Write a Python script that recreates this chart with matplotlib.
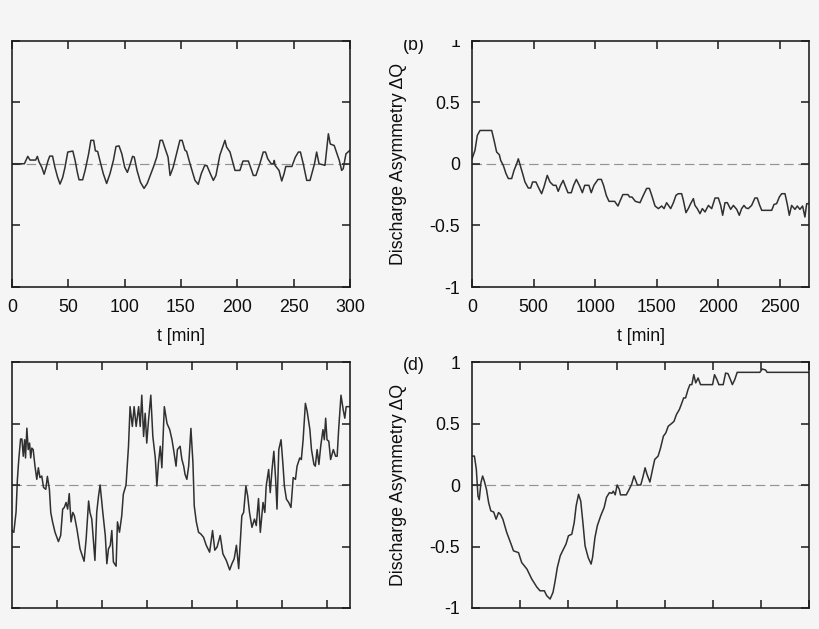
import matplotlib
matplotlib.use("Agg")
import matplotlib.pyplot as plt
from matplotlib.patches import Rectangle

plt.rcParams['font.family'] = ['Liberation Sans', 'DejaVu Sans']

# ---------------- data ----------------
# (a) short run, t in minutes
a_t = [0, 11, 14, 16, 21, 22.5, 24, 26.5, 28.5, 30, 32, 33.5, 36, 38, 40.5, 42.6, 45, 47, 49.5, 54,
       56, 58, 59.5, 62.7, 65, 68, 70, 72.5, 74, 76, 78, 81, 84, 87, 90, 92.3, 95, 97.5, 100, 102.4,
       104.5, 107, 108.5, 111, 114, 117.2, 120, 122.5, 125.5, 128.5, 131.5, 133.5, 136, 138.5, 140.3,
       143, 146, 149, 151, 153.5, 155, 158, 162.4, 165.3, 168, 171, 173, 176, 178.7, 181,
       184.5, 189, 190.5, 193.5, 195.5, 197.9, 202.3, 205, 209.8, 212.7, 214.2, 216.5, 220, 223, 225,
       227, 230, 232, 232.8, 233.5, 237, 239.4, 241.5, 243, 248.4, 251.5, 254.2, 256, 258.5, 261.6,
       264.5, 268.5, 270.4, 272.5, 277.8, 280.8, 282.5, 286, 288.5, 290.5, 292.6, 294, 296.4, 300]
a_q = [0, 0, 0.06, 0.03, 0.03, 0.06, 0.015, -0.03, -0.085, -0.04, 0.025, 0.062, 0.062, -0.025, -0.11, -0.165, -0.11, -0.03, 0.095, 0.103,
       0.027, -0.07, -0.13, -0.13, -0.05, 0.08, 0.19, 0.19, 0.105, 0.1, 0.027, -0.08, -0.16, -0.08, 0.027, 0.14, 0.145, 0.08, -0.027, -0.07,
       -0.015, 0.06, 0.055, -0.055, -0.15, -0.2, -0.16, -0.1, -0.027, 0.054, 0.19, 0.19, 0.12, 0.054, -0.095,
       -0.03, 0.08, 0.19, 0.19, 0.11, 0.1, 0, -0.135, -0.167, -0.08, -0.015, -0.015, -0.08, -0.135, -0.095,
       0.07, 0.19, 0.135, 0.095, 0.027, -0.054, -0.054, 0.022, 0.022, -0.054, -0.095, -0.095, 0, 0.095, 0.095,
       0.04, 0, 0, 0.027, -0.013, -0.054, -0.14, -0.08, -0.022, -0.022, 0.054, 0.095, 0.095, 0, -0.135,
       -0.135, 0, 0.095, 0, -0.013, 0.243, 0.16, 0.148, 0.08, 0.027, -0.054, -0.04, 0.08, 0.11]

# (b) long run, t in minutes
b_t = [0, 24, 43, 65, 160, 179, 200, 222, 233, 254, 276, 295, 322, 341, 363, 376, 390, 411, 430, 457,
       476, 492, 519, 538, 565, 584, 611, 633, 660, 682, 700, 719, 740, 755, 779, 806, 825, 847, 874, 896,
       915, 949, 968, 990, 1023, 1050, 1068, 1090, 1112, 1158, 1185, 1204, 1225, 1266, 1280, 1299, 1326, 1364, 1391, 1418,
       1440, 1459, 1486, 1513, 1540, 1559, 1580, 1595, 1613, 1635, 1656, 1675, 1702, 1716, 1737, 1756, 1775, 1797, 1810, 1829,
       1851, 1870, 1892, 1919, 1946, 1973, 2000, 2019, 2035, 2054, 2073, 2100, 2122, 2149, 2170, 2189, 2208, 2225, 2243, 2270,
       2297, 2316, 2333, 2352, 2433, 2452, 2473, 2495, 2514, 2541, 2560, 2576, 2595, 2622, 2641, 2662, 2684, 2703, 2717, 2740]
b_q = [0.04, 0.108, 0.23, 0.27, 0.27, 0.19, 0.095, 0.073, 0.027, -0.013, -0.08, -0.12, -0.12, -0.054, 0, 0.04, -0.008, -0.08, -0.148, -0.197,
       -0.197, -0.148, -0.148, -0.189, -0.243, -0.189, -0.094, -0.148, -0.175, -0.175, -0.224, -0.175, -0.135, -0.175, -0.235, -0.235, -0.175, -0.127, -0.181, -0.235,
       -0.175, -0.175, -0.235, -0.175, -0.127, -0.127, -0.175, -0.256, -0.305, -0.305, -0.343, -0.297, -0.25, -0.25, -0.27, -0.27, -0.305, -0.316, -0.256, -0.2,
       -0.2, -0.256, -0.343, -0.364, -0.343, -0.364, -0.316, -0.338, -0.364, -0.316, -0.256, -0.243, -0.243, -0.297, -0.397, -0.364, -0.324, -0.283, -0.338, -0.364,
       -0.405, -0.364, -0.391, -0.338, -0.364, -0.278, -0.278, -0.338, -0.418, -0.316, -0.316, -0.37, -0.338, -0.37, -0.418, -0.364, -0.338, -0.359, -0.364, -0.338,
       -0.278, -0.278, -0.33, -0.378, -0.378, -0.33, -0.324, -0.27, -0.243, -0.243, -0.33, -0.418, -0.338, -0.37, -0.343, -0.37, -0.343, -0.432, -0.324, -0.324]

# (c) noisy run (x axis unlabeled, one unit per tick)
c_x = [0, 0.04, 0.09, 0.12, 0.15, 0.19, 0.22, 0.25, 0.28, 0.30, 0.33, 0.36, 0.39, 0.415, 0.44, 0.47, 0.51, 0.55, 0.585, 0.62,
       0.66, 0.70, 0.75, 0.785, 0.83, 0.86, 0.90, 0.955, 1.03, 1.08, 1.125, 1.16, 1.2, 1.235, 1.27, 1.31, 1.35, 1.385, 1.44, 1.51,
       1.6, 1.645, 1.70, 1.73, 1.77, 1.84, 1.88, 1.92, 1.955, 2.015, 2.07, 2.105, 2.14, 2.18, 2.215, 2.25, 2.31, 2.34, 2.385, 2.435,
       2.47, 2.53, 2.585, 2.62, 2.67, 2.71, 2.755, 2.81, 2.845, 2.88, 2.92, 2.955, 2.99, 3.03, 3.08, 3.125, 3.18, 3.215, 3.25, 3.29,
       3.325, 3.38, 3.44, 3.5, 3.55, 3.585, 3.64, 3.67, 3.73, 3.77, 3.81, 3.84, 3.88, 3.92, 3.97, 4.015, 4.044, 4.09, 4.14, 4.19,
       4.25, 4.31, 4.385, 4.45, 4.5, 4.55, 4.62, 4.68, 4.755, 4.83, 4.88, 4.93, 4.98, 5.03, 5.1, 5.14, 5.19, 5.23, 5.27, 5.325,
       5.38, 5.42, 5.47, 5.51, 5.57, 5.61, 5.64, 5.695, 5.73, 5.77, 5.81, 5.85, 5.88, 5.92, 5.97, 6.015, 6.044, 6.09, 6.14, 6.19,
       6.24, 6.29, 6.325, 6.385, 6.42, 6.46, 6.51, 6.55, 6.61, 6.645, 6.7, 6.73, 6.77, 6.81, 6.85, 6.9, 6.93, 6.96, 6.99, 7.03,
       7.07, 7.13, 7.18, 7.215, 7.25, 7.3, 7.35, 7.385, 7.415, 7.45, 7.5]
c_q = [-0.37, -0.385, -0.22, 0.046, 0.207, 0.374, 0.374, 0.234, 0.368, 0.22, 0.462, 0.288, 0.341, 0.22, 0.3, 0.288, 0.153, 0.046, 0.14, 0.06,
       0.073, -0.02, -0.035, 0.07, -0.035, -0.223, -0.30, -0.385, -0.46, -0.41, -0.196, -0.183, -0.142, -0.196, -0.07, -0.30, -0.223, -0.25, -0.357, -0.52,
       -0.62, -0.44, -0.13, -0.223, -0.277, -0.613, -0.223, -0.09, 0.0, -0.223, -0.411, -0.64, -0.52, -0.492, -0.37, -0.626, -0.66, -0.30, -0.384, -0.25,
       -0.075, 0, 0.315, 0.637, 0.476, 0.637, 0.476, 0.637, 0.476, 0.73, 0.395, 0.583, 0.341, 0.529, 0.73, 0.395, 0.22, -0.008, 0.18, 0.315,
       0.14, 0.637, 0.5, 0.45, 0.368, 0.288, 0.153, 0.288, 0.315, 0.207, 0.153, 0.086, 0.046, 0.153, 0.46, 0.18, -0.17, -0.30, -0.385, -0.398,
       -0.425, -0.49, -0.546, -0.37, -0.53, -0.505, -0.41, -0.56, -0.613, -0.69, -0.64, -0.6, -0.49, -0.68, -0.25, -0.223, -0.008, -0.09, -0.223, -0.344,
       -0.277, -0.33, -0.11, -0.385, -0.142, -0.223, -0.008, 0.126, -0.062, 0.126, 0.274, 0.046, -0.196, 0.288, 0.368, 0.153, -0.008, -0.116, -0.142, -0.183,
       0.06, 0.046, 0.153, 0.22, 0.207, 0.368, 0.664, 0.597, 0.45, 0.288, 0.167, 0.153, 0.288, 0.167, 0.315, 0.45, 0.368, 0.543, 0.368, 0.355,
       0.207, 0.288, 0.234, 0.234, 0.462, 0.73, 0.61, 0.543, 0.637, 0.637, 0.637]

# (d) smooth run (x axis unlabeled, one unit per tick)
d_x = [0, 0.05, 0.09, 0.124, 0.15, 0.186, 0.22, 0.255, 0.3, 0.345, 0.39, 0.45, 0.5, 0.55, 0.59, 0.64, 0.72, 0.81, 0.86, 0.965,
       1.03, 1.14, 1.24, 1.345, 1.41, 1.5, 1.55, 1.62, 1.68, 1.72, 1.77, 1.83, 1.88, 1.95, 2.0, 2.07, 2.12, 2.16, 2.21, 2.255,
       2.3, 2.345, 2.41, 2.47, 2.5, 2.55, 2.6, 2.67, 2.74, 2.79, 2.85, 2.9, 2.93, 2.97, 3.01, 3.055, 3.08, 3.2, 3.26, 3.31,
       3.36, 3.4, 3.43, 3.5, 3.55, 3.59, 3.63, 3.69, 3.745, 3.79, 3.86, 3.91, 3.97, 4.02, 4.07, 4.14, 4.19, 4.24, 4.3, 4.34,
       4.39, 4.43, 4.48, 4.52, 4.56, 4.6, 4.64, 4.69, 4.74, 4.99, 5.03, 5.08, 5.12, 5.21, 5.26, 5.31, 5.36, 5.4, 5.45, 5.5,
       5.97, 6.02, 6.09, 6.12, 7.0]
d_q = [0.235, 0.235, 0.127, -0.09, -0.12, 0.02, 0.073, 0.032, -0.035, -0.143, -0.21, -0.22, -0.278, -0.224, -0.238, -0.278, -0.386, -0.48, -0.535, -0.55,
       -0.63, -0.684, -0.765, -0.83, -0.86, -0.86, -0.9, -0.927, -0.873, -0.79, -0.67, -0.576, -0.535, -0.48, -0.413, -0.4, -0.305, -0.17, -0.076, -0.13,
       -0.305, -0.495, -0.59, -0.643, -0.59, -0.427, -0.33, -0.25, -0.184, -0.1, -0.062, -0.068, -0.05, -0.08, 0.0, -0.035, -0.08, -0.08, -0.035, 0.005,
       0.073, 0.032, 0.0, 0.0, 0.073, 0.14, 0.086, 0.024, 0.127, 0.208, 0.235, 0.3, 0.397, 0.424, 0.478, 0.5, 0.518, 0.573, 0.613, 0.654,
       0.708, 0.708, 0.776, 0.816, 0.816, 0.897, 0.83, 0.87, 0.816, 0.816, 0.897, 0.857, 0.816, 0.816, 0.91, 0.905, 0.857, 0.816, 0.857, 0.916,
       0.916, 0.943, 0.935, 0.916, 0.916]

y_ticks = [-1, -0.5, 0, 0.5, 1]
y_ticklabels = ['-1', '-0.5', '0', '0.5', '1']
a_xticks = [0, 50, 100, 150, 200, 250, 300]
b_xticks = [0, 500, 1000, 1500, 2000, 2500]
cd_xticks = [1, 2, 3, 4, 5, 6, 7]
xlabel_text = 't [min]'
ylabel_text = 'Discharge Asymmetry ΔQ'
panel_labels = ['(b)', '(d)']

# ---------------- style ----------------
BG = '#f5f5f5'
LINE = '#303030'
AXC = '#1a1a1a'
TXT = '#0d0d0d'
FS = 12.8
W, H = 820, 629

fig = plt.figure(figsize=(W / 100, H / 100), dpi=100, facecolor=BG)


def box(x0, x1, y0, y1):
    return [x0 / W, 1 - y1 / H, (x1 - x0) / W, (y1 - y0) / H]


def style(ax, xlim, xticks, show_x, show_y):
    ax.set_facecolor(BG)
    ax.set_xlim(*xlim)
    ax.set_ylim(-1, 1)
    ax.set_xticks(xticks)
    ax.set_yticks(y_ticks)
    if show_y:
        ax.set_yticklabels(y_ticklabels)
    else:
        ax.set_yticklabels([])
    if not show_x:
        ax.set_xticklabels([])
    for s in ax.spines.values():
        s.set_color(AXC)
        s.set_linewidth(1.15)
    ax.tick_params(direction='in', length=5.8, width=1.1, color=AXC,
                   top=True, right=True, labelsize=FS, labelcolor=TXT)
    ax.tick_params(axis='x', pad=8.5)
    ax.tick_params(axis='y', pad=8.5)
    ax.axhline(0, color='#939393', lw=0.85, dashes=(8, 4), zorder=1)


ax_a = fig.add_axes(box(12, 350, 40.5, 287))
ax_a.plot(a_t, a_q, color=LINE, lw=1.1, zorder=2)
style(ax_a, (0, 300), a_xticks, True, False)
ax_a.set_xticklabels([str(v) for v in a_xticks])
ax_a.set_xlabel(xlabel_text, fontsize=FS, labelpad=8.5, color=TXT)

ax_b = fig.add_axes(box(472, 809.5, 40.5, 287))
ax_b.plot(b_t, b_q, color=LINE, lw=1.1, zorder=2)
style(ax_b, (0, 2740), b_xticks, True, True)
ax_b.set_xticklabels([str(v) for v in b_xticks])
ax_b.set_xlabel(xlabel_text, fontsize=FS, labelpad=8.5, color=TXT)
ax_b.set_ylabel(ylabel_text, fontsize=FS, labelpad=16, color=TXT)

ax_c = fig.add_axes(box(12, 350, 362, 608))
ax_c.plot(c_x, c_q, color=LINE, lw=1.1, zorder=2)
style(ax_c, (0, 7.5), cd_xticks, False, False)

ax_d = fig.add_axes(box(472, 809.5, 362, 608))
ax_d.plot(d_x, d_q, color=LINE, lw=1.1, zorder=2)
style(ax_d, (0, 7.0), cd_xticks, False, True)
ax_d.set_ylabel(ylabel_text, fontsize=FS, labelpad=16, color=TXT)

fig.text(414 / W, 1 - 45 / H, panel_labels[0], fontsize=FS, ha='center', va='center', color=TXT)
fig.text(414 / W, 1 - 366 / H, panel_labels[1], fontsize=FS, ha='center', va='center', color=TXT)

# the reference is cropped just above the top frames
fig.add_artist(Rectangle((0, 1 - 39.5 / H), 1, 39.5 / H, transform=fig.transFigure,
                         facecolor=BG, edgecolor='none', zorder=20))

fig.savefig('out.png', dpi=100, facecolor=BG)
